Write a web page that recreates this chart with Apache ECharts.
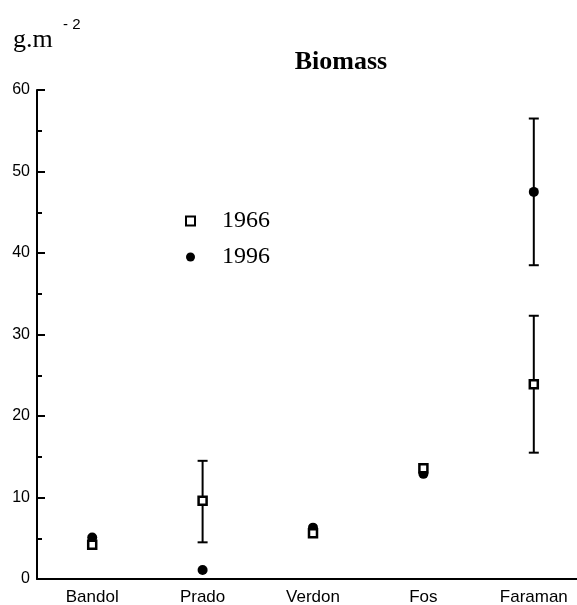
<!DOCTYPE html>
<html>
<head>
<meta charset="utf-8">
<script src="https://cdn.jsdelivr.net/npm/echarts@6/dist/echarts.min.js"></script>
<style>
  html, body { margin: 0; padding: 0; background: #fff; }
  #chart { width: 577px; height: 605px; }
</style>
</head>
<body>
<div id="chart"></div>
<script>
// sites along the coast
const categories = ['Bandol', 'Prado', 'Verdon', 'Fos', 'Faraman'];
// mean biomass, g.m-2
const biomass1966 = [4.2, 9.6, 5.6, 13.6, 23.9];
const biomass1996 = [5.1, 1.1, 6.3, 12.9, 47.5];
// error bars: [site index, low, high]
const errors1966 = [[1, 4.5, 14.5], [4, 15.5, 32.3]];
const errors1996 = [[4, 38.5, 56.5]];

const chart = echarts.init(document.getElementById('chart'));

// vertical bar with two caps
const renderErrorBar = (params, api) => {
  const x = api.value(0);
  const lo = api.coord([x, api.value(1)]);
  const hi = api.coord([x, api.value(2)]);
  const half = 5;
  const style = { stroke: '#000', lineWidth: 2 };
  return {
    type: 'group',
    children: [
      { type: 'line', shape: { x1: lo[0], y1: lo[1], x2: hi[0], y2: hi[1] }, style },
      { type: 'line', shape: { x1: lo[0] - half, y1: lo[1], x2: lo[0] + half, y2: lo[1] }, style },
      { type: 'line', shape: { x1: hi[0] - half, y1: hi[1], x2: hi[0] + half, y2: hi[1] }, style }
    ]
  };
};

const option = {
  animation: false,
  backgroundColor: '#fff',
  grid: {
    left: 37,
    top: 90,
    width: 552,
    height: 489,
    outerBoundsMode: 'none',
    containLabel: false
  },
  legend: {
    data: ['1966', '1996'],
    orient: 'vertical',
    left: 180,
    top: 204,
    itemWidth: 9,
    itemHeight: 9,
    itemGap: 12,
    textStyle: {
      fontFamily: 'Liberation Serif',
      fontSize: 24,
      color: '#000',
      padding: [0, 0, 0, 22]
    }
  },
  graphic: [
    {
      type: 'text', left: 13, top: 27,
      style: { text: 'g.m', font: '26px "Liberation Serif"', fill: '#000' }
    },
    {
      type: 'text', left: 63, top: 17,
      style: { text: '- 2', font: '15px "Liberation Sans"', fill: '#000' }
    },
    {
      type: 'text', x: 341, y: 62,
      style: {
        text: 'Biomass', font: 'bold 26px "Liberation Serif"', fill: '#000',
        align: 'center', verticalAlign: 'middle'
      }
    }
  ],
  xAxis: {
    type: 'category',
    data: categories,
    boundaryGap: true,
    axisLine: { lineStyle: { color: '#000', width: 2 } },
    axisTick: { alignWithLabel: true, inside: true, length: 6, lineStyle: { color: '#000', width: 2 } },
    axisLabel: { color: '#000', fontFamily: 'Liberation Sans', fontSize: 17, margin: 10 },
    splitLine: { show: false }
  },
  yAxis: {
    type: 'value',
    min: 0,
    max: 60,
    interval: 10,
    axisLine: { show: true, lineStyle: { color: '#000', width: 2 } },
    axisTick: { show: true, inside: true, length: 8, lineStyle: { color: '#000', width: 2 } },
    minorTick: { show: true, splitNumber: 2, length: 5, lineStyle: { color: '#000', width: 2 } },
    axisLabel: { color: '#000', fontFamily: 'Liberation Sans', fontSize: 16, margin: 7 },
    splitLine: { show: false }
  },
  series: [
    {
      type: 'custom',
      renderItem: renderErrorBar,
      encode: { x: 0, y: [1, 2] },
      data: errors1966.concat(errors1996),
      z: 1
    },
    {
      name: '1996',
      type: 'scatter',
      symbol: 'circle',
      symbolSize: 10,
      itemStyle: { color: '#000', opacity: 1 },
      data: biomass1996,
      z: 2
    },
    {
      name: '1966',
      type: 'scatter',
      symbol: 'rect',
      symbolSize: 8,
      itemStyle: { color: '#fff', borderColor: '#000', borderWidth: 2.5, opacity: 1 },
      data: biomass1966,
      z: 3
    }
  ]
};

chart.setOption(option);
</script>
</body>
</html>
